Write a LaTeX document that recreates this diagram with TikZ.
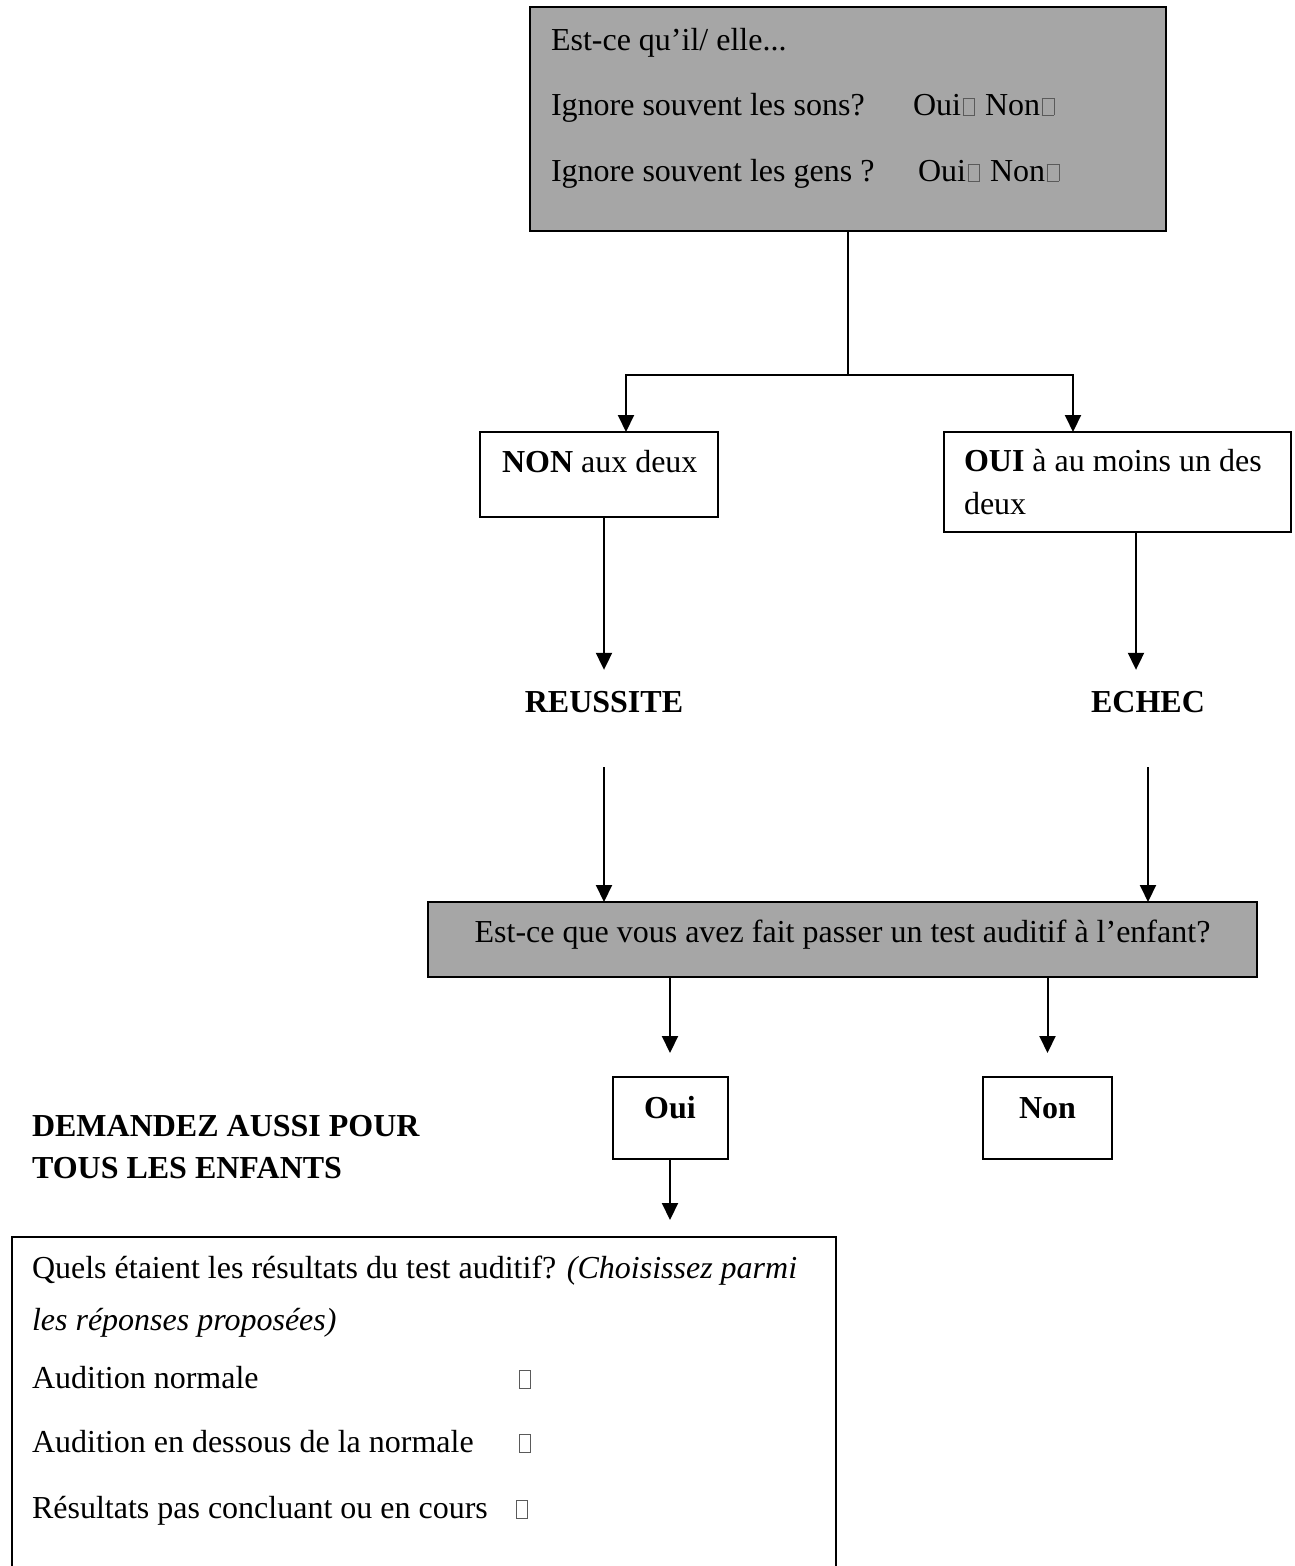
\documentclass[tikz,border=0pt]{standalone}
\usepackage{fontspec}
\setmainfont{Liberation Serif}
\usetikzlibrary{arrows.meta}
\definecolor{boxgray}{RGB}{166,166,166}
\definecolor{cbgray}{RGB}{90,90,90}
\newcommand{\chk}{\kern1.5pt{\color{cbgray}\setlength{\fboxrule}{0.8pt}\setlength{\fboxsep}{0pt}\fbox{\rule{0pt}{16.5pt}\kern11pt}}\kern2pt}
\begin{document}
\begin{tikzpicture}[x=1pt,y=-1pt,
  every node/.style={inner sep=0pt, outer sep=0pt},
  frame/.style={draw=black, line width=2pt, anchor=north west, inner sep=0pt, outer sep=0pt},
  shaded/.style={frame, fill=boxgray},
  txt/.style={anchor=base west, font=\fontsize{32}{38}\selectfont},
  ctr/.style={anchor=base, font=\fontsize{32}{38}\selectfont},
  lbl/.style={anchor=base, font=\fontsize{32}{38}\selectfont\bfseries},
  cb/.style={draw=cbgray, line width=0.8pt, anchor=south west, minimum width=11pt, minimum height=18pt},
  conn/.style={line width=2pt},
  arr/.style={line width=2pt, -{Triangle[length=17pt,width=16pt]}}
]
\useasboundingbox (0,0) rectangle (1295,1566);
\clip (0,0) rectangle (1295,1566);

% ---- boxes ----
\node[shaded, minimum width=636pt, minimum height=224pt] (q1) at (530,7) {};
\node[frame, minimum width=238pt, minimum height=85pt] (non) at (480,432) {};
\node[frame, minimum width=347pt, minimum height=100pt] (oui) at (944,432) {};
\node[shaded, minimum width=829pt, minimum height=75pt] (q2) at (428,902) {};
\node[frame, minimum width=115pt, minimum height=82pt] (ouibtn) at (612.5,1077) {};
\node[frame, minimum width=129pt, minimum height=82pt] (nonbtn) at (983,1077) {};
\node[frame, minimum width=824pt, minimum height=420pt] (res) at (12,1237) {};

% ---- texts ----
\node[txt] (t1) at (551,50) {Est-ce qu’il/ elle...};
\node[txt] (t2) at (551,115) {Ignore souvent les sons?};
\node[txt] (t2b) at (913,115) {Oui\chk\ Non\chk};
\node[txt] (t3) at (551,181) {Ignore souvent les gens ?};
\node[txt] (t3b) at (918,181) {Oui\chk\ Non\chk};

\node[txt] (tnon) at (502,472) {\textbf{NON} aux deux};
\node[txt] (toui1) at (964,471) {\textbf{OUI} à au moins un des};
\node[txt] (toui2) at (964,514) {deux};

\node[lbl] (reu) at (604,712) {REUSSITE};
\node[lbl] (ech) at (1148,712) {ECHEC};

\node[ctr] (tq2) at (842.5,942) {Est-ce que vous avez fait passer un test auditif à l’enfant?};

\node[lbl] (touib) at (670,1118) {Oui};
\node[lbl] (tnonb) at (1047.5,1118) {Non};

\node[txt, font=\fontsize{32}{38}\selectfont\bfseries] (dem1) at (32,1136) {DEMANDEZ AUSSI POUR};
\node[txt, font=\fontsize{32}{38}\selectfont\bfseries] (dem2) at (32,1178) {TOUS LES ENFANTS};

\node[txt] (r1) at (32,1278) {Quels étaient les résultats du test auditif? \textit{(Choisissez parmi}};
\node[txt] (r2) at (32,1330) {\textit{les réponses proposées)}};
\node[txt] (r3) at (32,1388) {Audition normale};
\node[txt] (r4) at (32,1452) {Audition en dessous de la normale};
\node[txt] (r5) at (32,1518) {Résultats pas concluant ou en cours};
\node[cb] (c1) at (519,1388) {};
\node[cb] (c2) at (519,1452) {};
\node[cb] (c3) at (516,1518) {};

% ---- connectors ----
\coordinate (split) at (q1.south |- 0,375);
\draw[conn] (q1.south) -- (split);
\draw[arr] (split) -| ([xshift=27pt]non.north);
\draw[arr] (split) -| ([xshift=-44.5pt]oui.north);

\draw[arr, shorten >=21pt] (non.south -| reu) -- (reu.north);
\coordinate (o1) at ([xshift=18.5pt]oui.south);
\draw[arr, shorten >=21pt] (o1) -- (o1 |- ech.north);

\draw[arr, shorten <=55pt] (reu.south) -- (reu.south |- q2.north);
\draw[arr, shorten <=55pt] (ech.south) -- (ech.south |- q2.north);

\draw[arr, shorten >=24pt] (q2.south -| ouibtn) -- (ouibtn.north);
\draw[arr, shorten >=24pt] (q2.south -| nonbtn) -- (nonbtn.north);
\draw[arr, shorten >=17pt] (ouibtn.south) -- (ouibtn.south |- res.north);
\end{tikzpicture}
\end{document}
